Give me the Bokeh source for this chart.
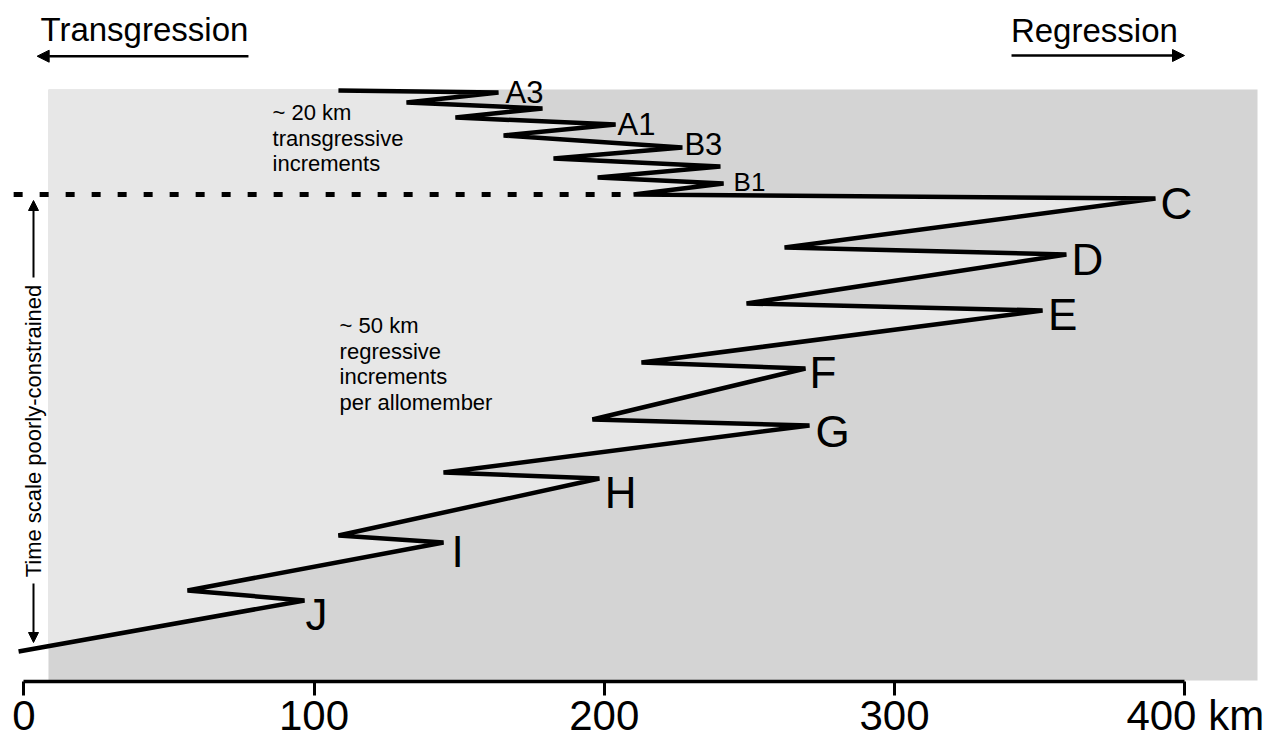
import numpy as np
from bokeh.plotting import figure
from bokeh.models import Range1d, LinearAxis, FixedTicker, Label, Arrow, NormalHead
from bokeh.embed import file_html
from bokeh.resources import INLINE

# ---------------- data ----------------
# shoreline position (km) versus relative time (arbitrary units, 0 = base of axis)
shoreline_km = [108.4, 163.55, 131.85, 178.7, 148.7, 203.9, 165.3, 226.9, 182.5,
                240.0, 197.7, 241.1, 210.1, 389.9, 262.1, 359.2, 249.0, 351.0,
                212.8, 269.3, 195.9, 270.7, 144.6, 198.3, 108.4, 144.6, 56.4,
                96.7, -1.8]
time_units = [591, 589, 579, 573, 564, 557, 546, 534, 523, 515, 504, 498, 487,
              483, 434, 427, 378, 371, 319, 313, 262, 256, 209, 203, 146, 139,
              91, 81, 30]
point_labels = ["", "A3", "", "", "", "A1", "", "B3", "", "", "", "B1", "", "C",
                "", "D", "", "E", "", "F", "", "G", "", "H", "", "I", "", "J", ""]
tick_values = [0, 100, 200, 300, 400]
tick_labels = ["0", "100", "200", "300", "400 km"]
basin_km = [8.5, 425.05]
basin_time = [1, 592]

FONT = "Liberation Sans"

p = figure(width=1286, height=740, x_range=Range1d(-8.03, 435.04),
           y_range=Range1d(-59, 681), output_backend="svg",
           toolbar_location=None, x_axis_location=None, y_axis_location=None,
           min_border=0, outline_line_color=None, background_fill_color="white",
           border_fill_color="white")
p.grid.visible = False

# basin background (dark) and the landward side of the shoreline (light)
p.quad(left=basin_km[0], right=basin_km[1], bottom=basin_time[0], top=basin_time[1],
       fill_color="#d4d4d4", line_color=None)

xs = np.array(shoreline_km, dtype=float)
ys = np.array(time_units, dtype=float)
x0 = basin_km[0]
poly_x = [x0, xs[0]]
poly_y = [basin_time[1], basin_time[1]]
for i in range(len(xs)):
    if xs[i] >= x0:
        poly_x.append(xs[i]); poly_y.append(ys[i])
    else:
        t = (x0 - xs[i - 1]) / (xs[i] - xs[i - 1])
        poly_x.append(x0); poly_y.append(ys[i - 1] + t * (ys[i] - ys[i - 1]))
        break
p.patch(poly_x, poly_y, fill_color="#e7e7e7", line_color=None)

# dashed time-scale boundary
p.line([-3.5, shoreline_km[12]], [time_units[12], time_units[12]], line_color="black",
       line_width=5, line_dash="9 17")

# shoreline trajectory
p.line(shoreline_km, time_units, line_color="black", line_width=4.5)

# point labels
label_style = {"A3": (31, 7, 0), "A1": (31, 2, 0), "B3": (31, 2, 3), "B1": (26, 10, 2),
               "C": (44, 5, -5), "D": (44, 5, -5), "E": (44, 5.5, -4), "F": (44, 4, -3.5),
               "G": (44, 6, -6), "H": (44, 5.5, -13.5), "I": (44, 8, -8.5), "J": (44, 1, -13.5)}
for xk, yt, name in zip(shoreline_km, time_units, point_labels):
    if not name:
        continue
    size, dx, dy = label_style[name]
    p.add_layout(Label(x=xk, y=yt, text=name, x_offset=dx, y_offset=dy,
                       text_font=FONT, text_font_size=f"{size}px", text_color="black",
                       text_align="left", text_baseline="middle"))

# annotation texts
for i, line in enumerate(["~ 20 km", "transgressive", "increments"]):
    p.add_layout(Label(x=85.7, y=568.9 - 25.5 * i, text=line, text_font=FONT,
                       text_font_size="22px", text_color="black",
                       text_baseline="middle"))
for i, line in enumerate(["~ 50 km", "regressive", "increments", "per allomember"]):
    p.add_layout(Label(x=108.8, y=355.9 - 25.5 * i, text=line, text_font=FONT,
                       text_font_size="22px", text_color="black",
                       text_baseline="middle"))

# Transgression / Regression headings with arrows
p.add_layout(Label(x=5.75, y=651.8, text="Transgression", text_font=FONT,
                   text_font_size="33px", text_color="black", text_baseline="middle"))
p.add_layout(Label(x=340.1, y=650.8, text="Regression", text_font=FONT,
                   text_font_size="33px", text_color="black", text_baseline="middle"))
p.add_layout(Arrow(x_start=77.4, y_start=625.3, x_end=4.6, y_end=625.3, line_width=2.5,
                   end=NormalHead(size=12, fill_color="black", line_color="black")))
p.add_layout(Arrow(x_start=340.3, y_start=626, x_end=399.9, y_end=626, line_width=2.5,
                   end=NormalHead(size=12, fill_color="black", line_color="black")))

# vertical time-scale note
p.add_layout(Label(x=3.34, y=250.5, text="Time scale poorly-constrained", angle=np.pi / 2,
                   text_font=FONT, text_font_size="22px", text_color="black",
                   text_align="center", text_baseline="middle"))
p.add_layout(Arrow(x_start=3.34, y_start=404, x_end=3.34, y_end=481, line_width=2,
                   end=NormalHead(size=10, fill_color="black", line_color="black")))
p.add_layout(Arrow(x_start=3.34, y_start=98, x_end=3.34, y_end=39, line_width=2,
                   end=NormalHead(size=10, fill_color="black", line_color="black")))

# distance axis
overrides = {v: lab for v, lab in zip(tick_values, tick_labels)}
overrides[tick_values[-1]] = ""
ax = LinearAxis(fixed_location=0, bounds=(tick_values[0], tick_values[-1]),
                ticker=FixedTicker(ticks=tick_values, minor_ticks=[]),
                major_label_overrides=overrides,
                axis_line_width=3.5, axis_line_color="black",
                major_tick_line_width=3, major_tick_line_color="black",
                major_tick_out=14, major_tick_in=0, minor_tick_out=0, minor_tick_in=0,
                major_label_text_font=FONT, major_label_text_font_size="42px",
                major_label_text_color="black", major_label_standoff=5)
p.add_layout(ax, "below")
p.add_layout(Label(x=tick_values[-1], y=0, text=tick_labels[-1], x_offset=-58.4, y_offset=-34,
                   text_font=FONT, text_font_size="42px", text_color="black",
                   text_align="left", text_baseline="middle"))

open("out.html", "w").write(file_html(p, INLINE))
